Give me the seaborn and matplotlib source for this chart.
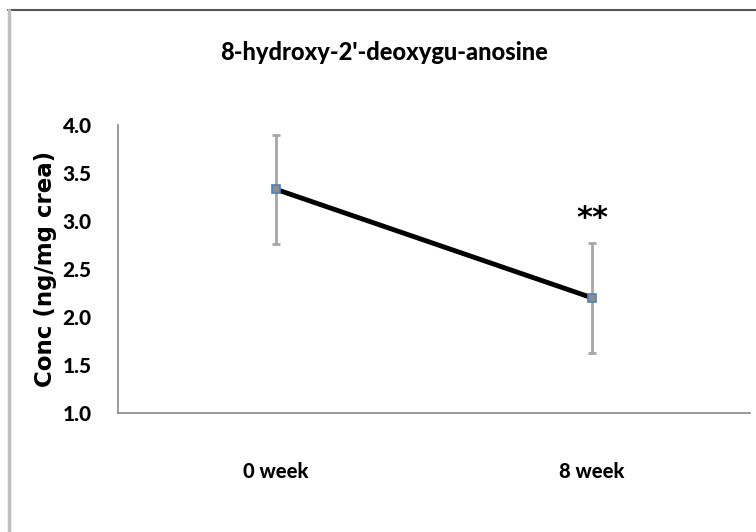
import matplotlib
matplotlib.use("Agg")
import matplotlib.pyplot as plt
import seaborn as sns
import pandas as pd
from matplotlib.lines import Line2D
from matplotlib.ticker import FixedLocator, NullFormatter, FixedFormatter

categories = ["0 week", "8 week"]
means = [3.33, 2.20]
errors = [0.57, 0.57]
yticks = [1.0, 1.5, 2.0, 2.5, 3.0, 3.5, 4.0]
title = "8-hydroxy-2'-deoxygu-anosine"
ylabel = "Conc (ng/mg crea)"
annotation = "**"

sns.set_theme(style="white")
plt.rcParams["text.color"] = "black"
plt.rcParams["axes.labelcolor"] = "black"
plt.rcParams["xtick.color"] = "black"
plt.rcParams["ytick.color"] = "black"
narrow = ["Lato", "DejaVu Sans"]

df = pd.DataFrame({"pos": list(range(len(categories))), "conc": means})

fig = plt.figure(figsize=(7.56, 5.32), dpi=100)
ax = fig.add_axes([118/756, (532-413)/532, (750-118)/756, (413-125)/532])

eb = ax.errorbar(df["pos"], df["conc"], yerr=errors, fmt="none", ecolor="#a6a6a6",
                 elinewidth=2, capsize=3, capthick=2, zorder=2)
for cap in eb[1]:
    cap.set_color("#333333")
sns.lineplot(data=df, x="pos", y="conc", ax=ax, color="black", linewidth=3.5,
             marker="s", markersize=6, markerfacecolor="#8c8c8c",
             markeredgecolor="#4f81bd", markeredgewidth=1.2, zorder=3)

ax.set_xlim(-0.5, len(categories) - 0.5)
ax.set_ylim(yticks[0], yticks[-1])
ax.set_yticks(yticks)
ax.set_yticklabels([f"{v:.1f}" for v in yticks], fontsize=15, fontweight="black",
                   family=narrow)
ax.xaxis.set_major_locator(FixedLocator([0.5 + i for i in range(len(categories))]))
ax.xaxis.set_major_formatter(NullFormatter())
ax.xaxis.set_minor_locator(FixedLocator(list(range(len(categories)))))
ax.xaxis.set_minor_formatter(FixedFormatter(categories))
ax.tick_params(axis="x", which="major", direction="in", length=5, width=1, color="#888888")
ax.tick_params(axis="x", which="minor", length=0, pad=35)
for lab in ax.xaxis.get_minorticklabels():
    lab.set_fontsize(14.5)
    lab.set_fontweight("black")
    lab.set_family(narrow)
ax.tick_params(axis="y", direction="out", length=5, width=1, color="#888888", pad=14)
ax.set_xlabel("")
ax.set_ylabel(ylabel, fontsize=16.5, fontweight="bold", labelpad=4, family=["DejaVu Sans"])

for side in ["top", "right"]:
    ax.spines[side].set_visible(False)
for side in ["left", "bottom"]:
    ax.spines[side].set_color("#888888")
    ax.spines[side].set_linewidth(1.2)

ax.text(1, means[1] + errors[1] + 0.26, annotation, ha="center", va="center",
        fontsize=22, fontweight="bold", color="black")

fig.text(384/756, 1 - 53/532, title, ha="center", va="center", fontsize=17,
         fontweight="black", family=narrow)

fig.add_artist(Line2D([8/756, 1], [1 - 10/532, 1 - 10/532], color="#555555", lw=1.5))
fig.add_artist(Line2D([9/756, 9/756], [0, 1 - 10/532], color="#c0c0c0", lw=2.5))

fig.savefig("out.png", dpi=100)
